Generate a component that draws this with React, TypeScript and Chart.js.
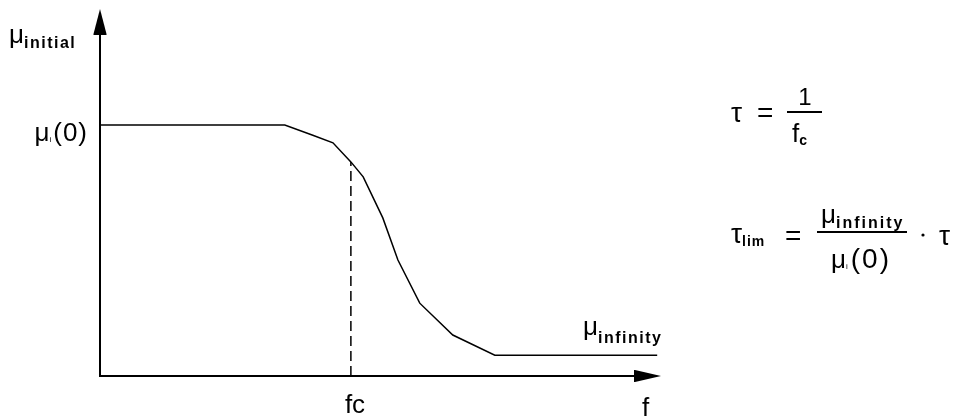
import React, { useEffect, useRef } from "react";
import { Chart, registerables } from "chart.js";

Chart.register(...registerables);

// Permeability vs. frequency curve (arbitrary units)
const FREQ = [0, 3.3, 3.8, 4.16, 4.48, 4.7, 5.05, 5.32, 5.71, 6.3, 7.05, 9.95];
const MU = [6.86, 6.86, 6.58, 6.37, 5.85, 5.44, 4.32, 3.17, 1.99, 1.12, 0.57, 0.57];

// Cut-off frequency and the permeability reached there
const FC = [4.48];
const MU_AT_FC = [5.85];

const FONT = '"Liberation Sans", Arial, sans-serif';

// a run of text: size in px, vertical shift, extra letter spacing, weight
type Part = { t: string; size: number; dy?: number; ls?: number; bold?: boolean };

const MAIN = 26;
const SUB = 16;
const SUB_LS = 1.5;

function setFont(ctx: CanvasRenderingContext2D, p: Part) {
  ctx.font = `${p.bold ? "bold " : ""}${p.size}px ${FONT}`;
}

function partWidth(ctx: CanvasRenderingContext2D, p: Part) {
  setFont(ctx, p);
  const ls = p.ls || 0;
  let w = 0;
  for (const ch of p.t) w += ctx.measureText(ch).width + ls;
  return w;
}

function drawParts(ctx: CanvasRenderingContext2D, x: number, y: number, parts: Part[]) {
  let cx = x;
  for (const p of parts) {
    setFont(ctx, p);
    const ls = p.ls || 0;
    for (const ch of p.t) {
      ctx.fillText(ch, cx, y + (p.dy || 0));
      cx += ctx.measureText(ch).width + ls;
    }
  }
  return cx;
}

function partsWidth(ctx: CanvasRenderingContext2D, parts: Part[]) {
  return parts.reduce((s, p) => s + partWidth(ctx, p), 0);
}

const diagramPlugin = {
  id: "diagram",
  afterDatasetsDraw(chart: any) {
    const ctx: CanvasRenderingContext2D = chart.ctx;
    const xs = chart.scales.x;
    const ys = chart.scales.y;
    const x0 = xs.getPixelForValue(0);
    const y0 = ys.getPixelForValue(0);
    const xEnd = xs.getPixelForValue(10);
    const yTop = ys.getPixelForValue(10);

    ctx.save();
    ctx.strokeStyle = "#000";
    ctx.fillStyle = "#000";
    ctx.lineWidth = 2;

    // axes
    ctx.beginPath();
    ctx.moveTo(x0, y0 + 1);
    ctx.lineTo(x0, yTop + 10);
    ctx.moveTo(x0 - 1, y0);
    ctx.lineTo(xEnd - 10, y0);
    ctx.stroke();

    // arrow heads
    ctx.beginPath();
    ctx.moveTo(x0, yTop - 1);
    ctx.lineTo(x0 + 6.5, yTop + 24);
    ctx.lineTo(x0 + 6.5, yTop + 25);
    ctx.lineTo(x0 - 6.5, yTop + 25);
    ctx.lineTo(x0 - 6.5, yTop + 24);
    ctx.closePath();
    ctx.fill();

    ctx.beginPath();
    ctx.moveTo(xEnd + 1, y0);
    ctx.lineTo(xEnd - 25, y0 - 6);
    ctx.lineTo(xEnd - 26, y0 - 6);
    ctx.lineTo(xEnd - 26, y0 + 6);
    ctx.lineTo(xEnd - 25, y0 + 6);
    ctx.closePath();
    ctx.fill();

    ctx.textBaseline = "alphabetic";
    ctx.textAlign = "left";

    // y-axis labels
    drawParts(ctx, 9, yTop + 33, [
      { t: "\u03bc", size: MAIN },
      { t: "initial", size: SUB, dy: 5, ls: SUB_LS, bold: true },
    ]);
    const mu0Parts: Part[] = [
      { t: "\u03bc", size: MAIN },
      { t: "i", size: 8, dy: 1, ls: 2 },
      { t: "(0)", size: MAIN, ls: 1 },
    ];
    const yMu0 = ys.getPixelForValue(MU[0]);
    drawParts(ctx, x0 - 12 - partsWidth(ctx, mu0Parts), yMu0 + 16, mu0Parts);

    // x-axis labels
    const xFc = xs.getPixelForValue(FC[0]);
    drawParts(ctx, xFc - 6, y0 + 37, [{ t: "fc", size: MAIN }]);
    drawParts(ctx, xEnd - 18, y0 + 40, [{ t: "f", size: MAIN }]);

    // asymptote label
    const yInf = ys.getPixelForValue(MU[MU.length - 1]);
    drawParts(ctx, xEnd - 77, yInf - 20, [
      { t: "\u03bc", size: MAIN },
      { t: "infinity", size: SUB, dy: 8, ls: SUB_LS, bold: true },
    ]);

    // tau = 1 / fc
    ctx.lineWidth = 2;
    drawParts(ctx, 731, 122, [{ t: "\u03c4", size: 28 }]);
    drawParts(ctx, 757, 122, [{ t: "=", size: 28 }]);
    ctx.beginPath();
    ctx.moveTo(787, 112);
    ctx.lineTo(822, 112);
    ctx.stroke();
    ctx.font = `24px ${FONT}`;
    ctx.textAlign = "center";
    ctx.fillText("1", 805, 105);
    ctx.textAlign = "left";
    drawParts(ctx, 792, 142, [
      { t: "f", size: MAIN },
      { t: "c", size: 14, dy: 3, bold: true },
    ]);

    // tau_lim = mu_infinity / mu(0) * tau
    drawParts(ctx, 731, 243, [
      { t: "\u03c4", size: 28 },
      { t: "lim", size: 14, dy: 3, ls: 1, bold: true },
    ]);
    drawParts(ctx, 785, 245, [{ t: "=", size: 28 }]);
    ctx.beginPath();
    ctx.moveTo(817, 232);
    ctx.lineTo(907, 232);
    ctx.stroke();
    drawParts(ctx, 821, 223, [
      { t: "\u03bc", size: MAIN },
      { t: "infinity", size: SUB, dy: 5, ls: 2, bold: true },
    ]);
    drawParts(ctx, 831, 268, [
      { t: "\u03bc", size: MAIN },
      { t: "i", size: 8, dy: 1, ls: 3 },
      { t: "(0)", size: 28, ls: 2 },
    ]);
    ctx.beginPath();
    ctx.arc(923, 235, 1.6, 0, Math.PI * 2);
    ctx.fill();
    drawParts(ctx, 939, 245, [{ t: "\u03c4", size: 28 }]);

    ctx.restore();
  },
};

export default function App() {
  const ref = useRef<HTMLCanvasElement | null>(null);

  useEffect(() => {
    if (!ref.current) return;
    const curve = FREQ.map((f, i) => ({ x: f, y: MU[i] }));
    const cutoff = [
      { x: FC[0], y: 0 },
      { x: FC[0], y: MU_AT_FC[0] },
    ];
    const chart = new Chart(ref.current, {
      type: "line",
      data: {
        datasets: [
          {
            data: curve,
            borderColor: "#000",
            borderWidth: 1.5,
            pointRadius: 0,
            tension: 0,
            fill: false,
          },
          {
            data: cutoff,
            borderColor: "#000",
            borderWidth: 1.5,
            borderDash: [10, 5],
            pointRadius: 0,
            fill: false,
          },
        ],
      },
      options: {
        responsive: false,
        animation: false,
        layout: { padding: { left: 100, right: 301, top: 10, bottom: 42 } },
        plugins: { legend: { display: false }, tooltip: { enabled: false } },
        scales: {
          x: { type: "linear", min: 0, max: 10, display: false },
          y: { type: "linear", min: 0, max: 10, display: false },
        },
      },
      plugins: [diagramPlugin],
    });
    return () => chart.destroy();
  }, []);

  return (
    <div style={{ position: "absolute", left: 0, top: 0, width: 961, height: 418, background: "#fff" }}>
      <canvas ref={ref} width={961} height={418} />
    </div>
  );
}
